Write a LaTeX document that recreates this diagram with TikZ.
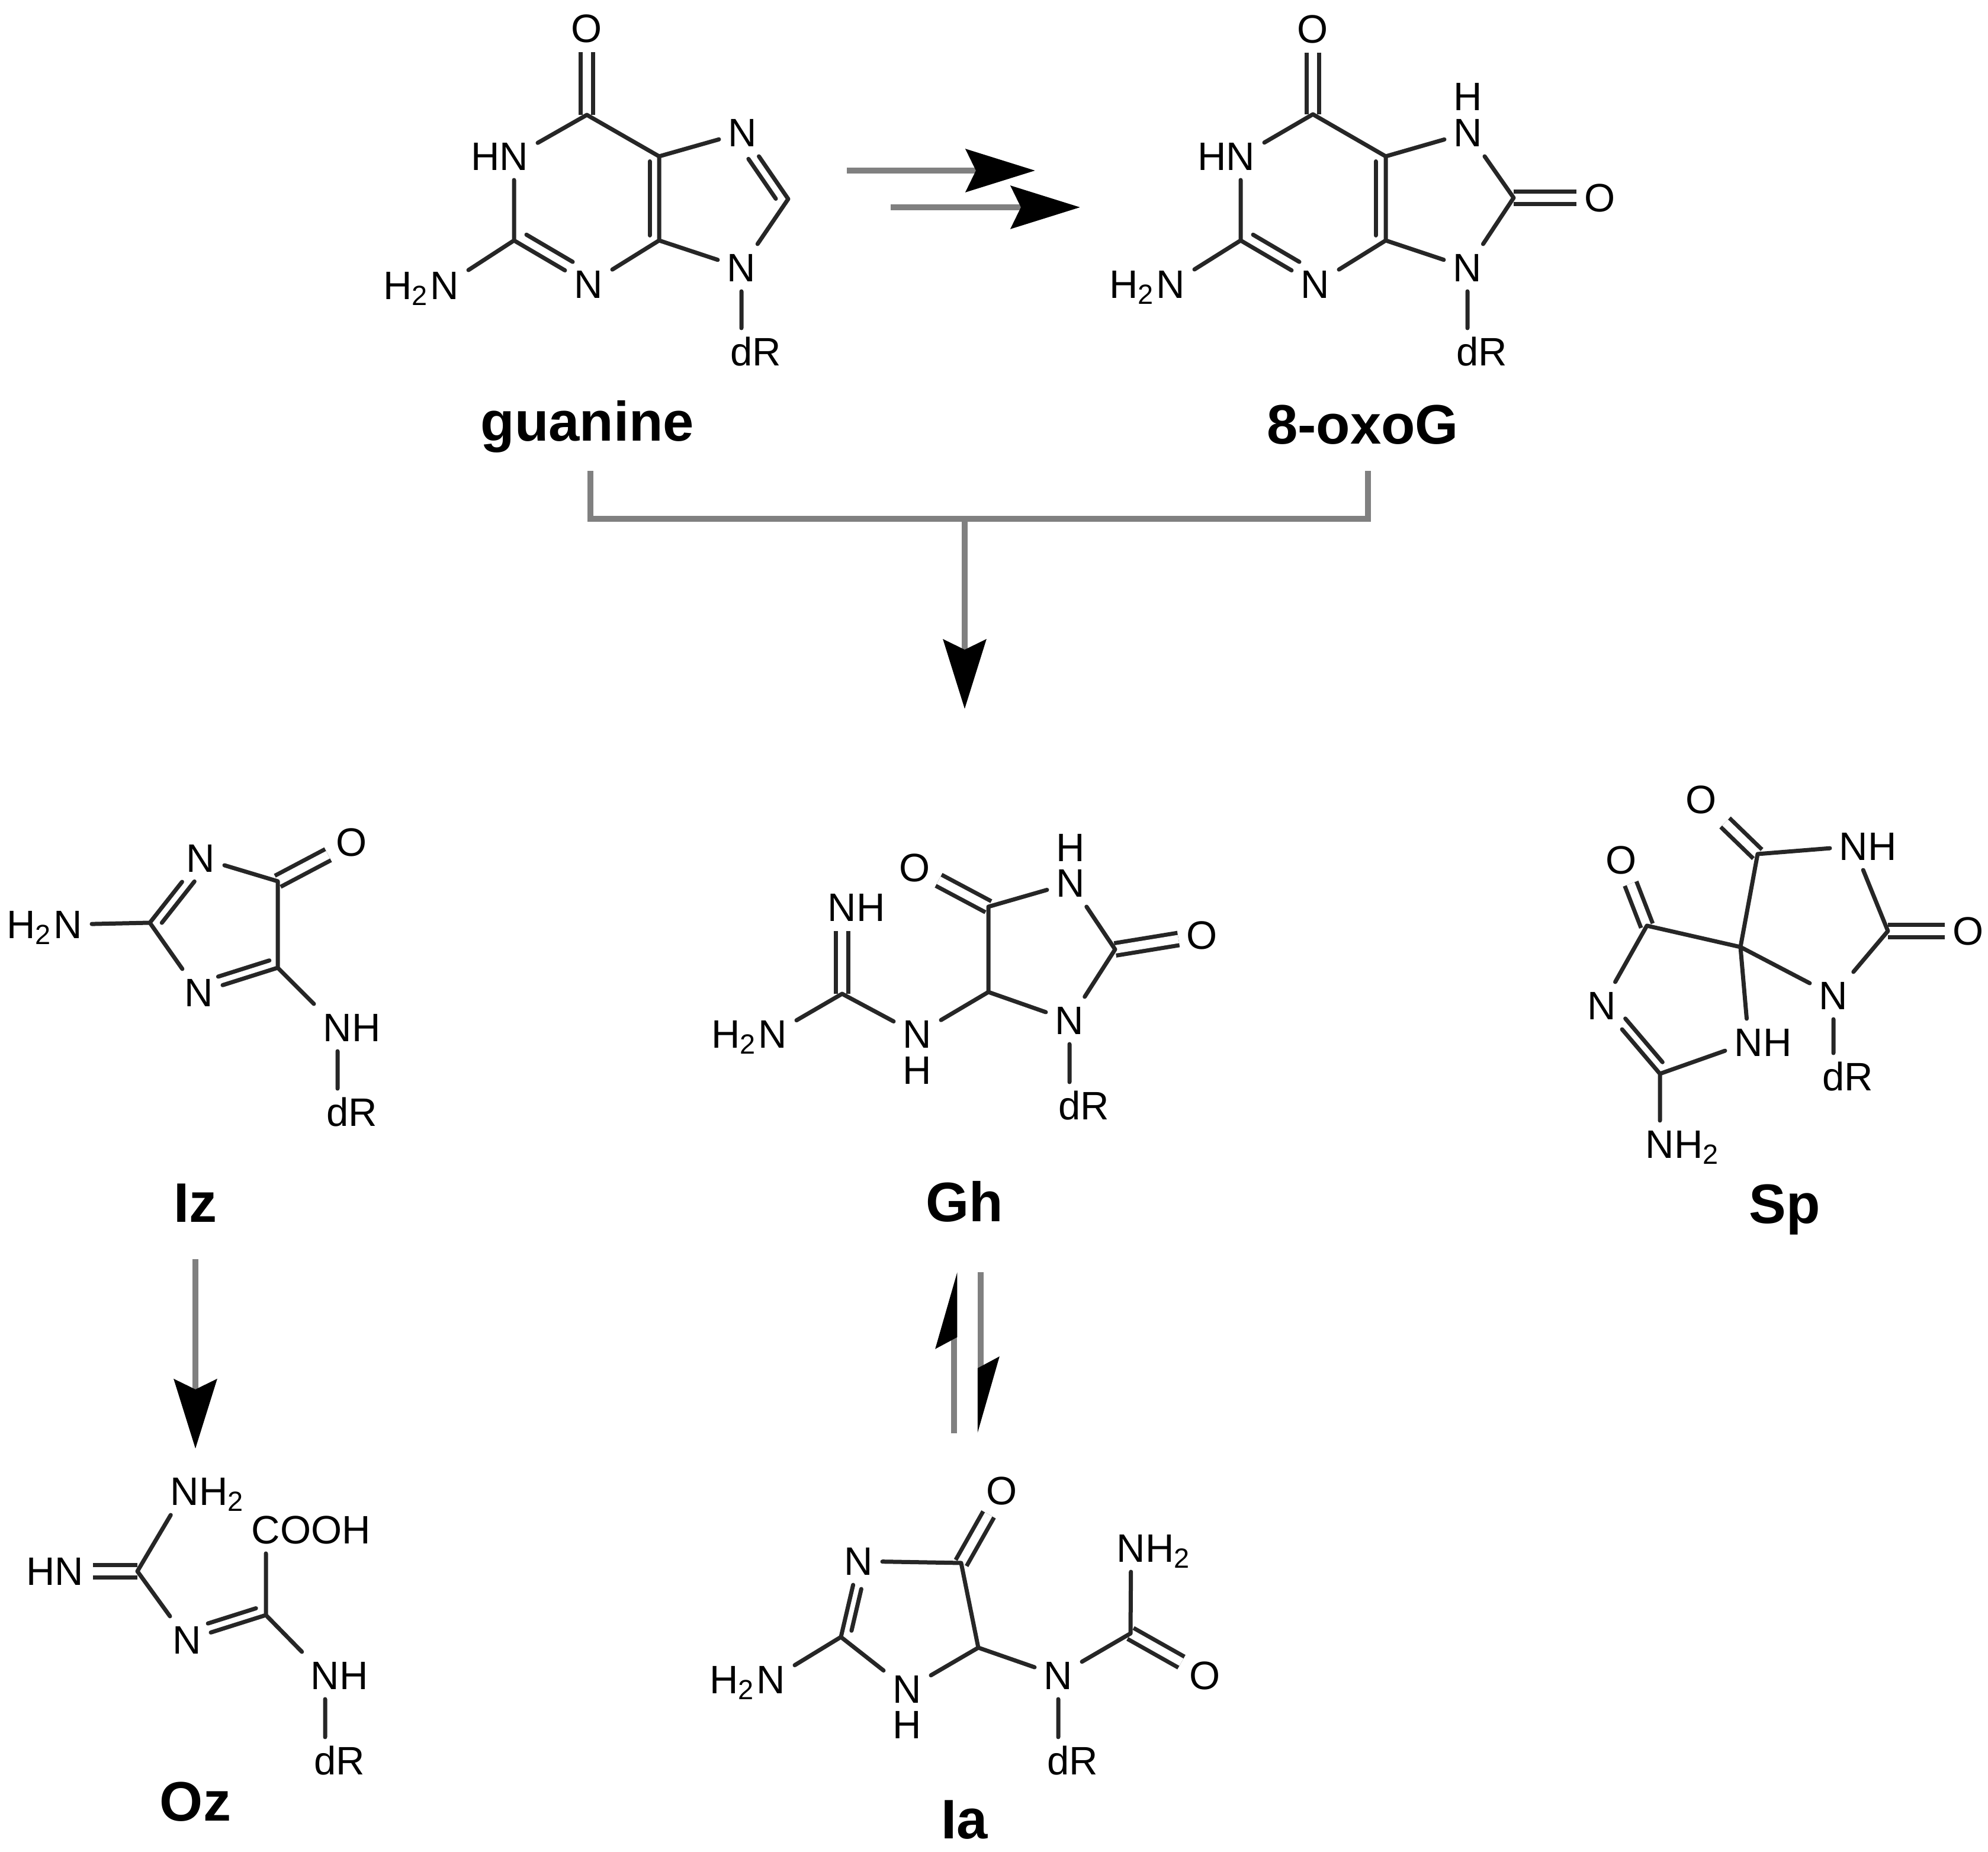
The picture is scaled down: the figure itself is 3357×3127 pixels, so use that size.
\documentclass[tikz,border=0pt]{standalone}
\usepackage{fontspec}
\setsansfont{Liberation Sans}
\usetikzlibrary{arrows.meta,calc}
\newcommand{\innerbond}[5]{\draw[bond] ($(#1)!#3!(#2)!#5!90:(#2)$) -- ($(#1)!#4!(#2)!#5!90:(#2)$);}

\begin{document}
\begin{tikzpicture}[x=.1pt,y=-.1pt,font=\sffamily,
  atom/.style={inner sep=0pt,minimum size=7.6pt,text height=4.8pt,text depth=0pt,
    font=\sffamily\fontsize{6.7}{8}\selectfont},
  caption/.style={inner sep=0pt,anchor=base,font=\sffamily\bfseries\fontsize{9.4}{11}\selectfont},
  bond/.style={draw=black!85,line width=.7pt,line cap=round},
  dbond/.style={bond,line cap=butt,double=white,double distance=1.4pt},
  link/.style={draw=black!50,line width=1.05pt},
  react/.style={link,-{Stealth[length=11.7pt,width=7.2pt,inset=1.7pt,black]}},
  half/.style={link,-{Stealth[harpoon,length=11pt,width=6.2pt,inset=1.6pt,black,line width=1.05pt]}}]

    \useasboundingbox (0,0) rectangle (3357,3127);

    % guanine
    \node[atom](guaO) at (991,48){O};
    \coordinate (guaC6) at (991,194);
    \node[atom](guaN1) at (868,264){\llap{H}N};
    \coordinate (guaC2) at (868,406);
    \node[atom](guaNb) at (751,482){\llap{H\textsubscript{2}}N};
    \node[atom](guaN3) at (994,480){N};
    \coordinate (guaC4) at (1113,406);
    \coordinate (guaC5) at (1113,264);
    \node[atom](guaN7) at (1254,224){N};
    \coordinate (guaC8) at (1331,336);
    \node[atom](guaN9) at (1252,452){N};
    \node[atom](guadR) at (1252,594){d\rlap{R}};
    \node[caption](guaName) at (992,745){guanine};
    \draw[dbond] (guaO) -- (guaC6);
    \draw[bond] (guaC6) -- (guaN1) (guaN1) -- (guaC2) (guaC2) -- (guaNb) (guaC2) -- (guaN3)
      (guaN3) -- (guaC4) (guaC4) -- (guaC5) (guaC5) -- (guaC6) (guaC5) -- (guaN7)
      (guaN7) -- (guaC8) (guaC8) -- (guaN9) (guaN9) -- (guaC4) (guaN9) -- (guadR);
    \innerbond{guaC2}{guaN3}{.09}{.71}{1.9pt}
    \innerbond{guaC4}{guaC5}{.06}{.94}{1.6pt}
    \innerbond{guaC8}{guaN7}{.09}{.69}{1.7pt}

    % 8-oxoG
    \node[atom](oxoO) at (2217,49){O};
    \coordinate (oxoC6) at (2217,193);
    \node[atom](oxoN1) at (2095,264){\llap{H}N};
    \coordinate (oxoC2) at (2095,406);
    \node[atom](oxoNb) at (1977,480){\llap{H\textsubscript{2}}N};
    \node[atom](oxoN3) at (2221,480){N};
    \coordinate (oxoC4) at (2340,406);
    \coordinate (oxoC5) at (2340,264);
    \node[atom](oxoN7) at (2479,224){N};
    \node[atom](oxoH) at (2479,163){H};
    \coordinate (oxoC8) at (2556,334);
    \node[atom](oxoOb) at (2702,334){O};
    \node[atom](oxoN9) at (2478,452){N};
    \node[atom](oxodR) at (2478,594){d\rlap{R}};
    \node[caption](oxoName) at (2301,750){8-oxoG};
    \draw[dbond] (oxoO) -- (oxoC6);
    \draw[dbond] (oxoC8) -- (oxoOb);
    \draw[bond] (oxoC6) -- (oxoN1) (oxoN1) -- (oxoC2) (oxoC2) -- (oxoNb) (oxoC2) -- (oxoN3)
      (oxoN3) -- (oxoC4) (oxoC4) -- (oxoC5) (oxoC5) -- (oxoC6) (oxoC5) -- (oxoN7)
      (oxoN7) -- (oxoC8) (oxoC8) -- (oxoN9) (oxoN9) -- (oxoC4) (oxoN9) -- (oxodR);
    \innerbond{oxoC2}{oxoN3}{.09}{.71}{1.9pt}
    \innerbond{oxoC4}{oxoC5}{.06}{.94}{1.7pt}

    % Iz
    \node[atom](izNa) at (339,1449){N};
    \node[atom](izNb) at (336,1676){N};
    \coordinate (izCa) at (253,1558);
    \coordinate (izCb) at (469,1488);
    \coordinate (izCc) at (469,1634);
    \node[atom](izO) at (594,1422){O};
    \node[atom](izNc) at (115,1561){\llap{H\textsubscript{2}}N};
    \node[atom](izNd) at (570,1735){N\rlap{H}};
    \node[atom](izdR) at (570,1878){d\rlap{R}};
    \node[caption](izName) at (330,2064){Iz};
    \draw[dbond] (izCb) -- (izO);
    \draw[bond] (izNc) -- (izCa) (izCa) -- (izNa) (izCa) -- (izNb) (izNa) -- (izCb)
      (izCb) -- (izCc) (izCc) -- (izNb) (izCc) -- (izNd) (izNd) -- (izdR);
    \innerbond{izNa}{izCa}{.27}{.91}{1.6pt}
    \innerbond{izNb}{izCc}{.28}{.93}{1.6pt}

    % Gh
    \node[atom](ghNa) at (1422,1532){N\rlap{H}};
    \coordinate (ghCa) at (1422,1678);
    \node[atom](ghNb) at (1305,1746){\llap{H\textsubscript{2}}N};
    \node[atom](ghNc) at (1549,1746){N};
    \node[atom](ghHa) at (1549,1807){H};
    \coordinate (ghCb) at (1669,1675);
    \coordinate (ghCc) at (1669,1531);
    \node[atom](ghOa) at (1545,1465){O};
    \node[atom](ghNd) at (1808,1491){N};
    \node[atom](ghHb) at (1808,1431){H};
    \coordinate (ghCd) at (1883,1603);
    \node[atom](ghOb) at (2030,1579){O};
    \node[atom](ghNe) at (1806,1723){N};
    \node[atom](ghdR) at (1806,1867){d\rlap{R}};
    \node[caption](ghName) at (1629,2063){Gh};
    \draw[dbond] (ghNa) -- (ghCa);
    \draw[dbond] (ghCc) -- (ghOa);
    \draw[dbond] (ghCd) -- (ghOb);
    \draw[bond] (ghCa) -- (ghNb) (ghCa) -- (ghNc) (ghNc) -- (ghCb) (ghCb) -- (ghCc)
      (ghCc) -- (ghNd) (ghNd) -- (ghCd) (ghCd) -- (ghNe) (ghNe) -- (ghCb) (ghNe) -- (ghdR);

    % Sp
    \node[atom](spOa) at (2873,1350){O};
    \coordinate (spCa) at (2968,1442);
    \node[atom](spNa) at (3130,1429){N\rlap{H}};
    \coordinate (spCb) at (3188,1572);
    \node[atom](spOb) at (3324,1572){O};
    \node[atom](spNb) at (3096,1681){N};
    \node[atom](spdR) at (3096,1818){d\rlap{R}};
    \coordinate (spiro) at (2939,1599);
    \coordinate (spCc) at (2781,1563);
    \node[atom](spOc) at (2738,1452){O};
    \node[atom](spNc) at (2705,1698){N};
    \coordinate (spCd) at (2803,1813);
    \node[atom](spNd) at (2953,1760){N\rlap{H}};
    \node[atom](spNe) at (2803,1932){N\rlap{H\textsubscript{2}}};
    \node[caption](spName) at (3014,2066){Sp};
    \draw[dbond] (spCa) -- (spOa);
    \draw[dbond] (spCb) -- (spOb);
    \draw[dbond] (spCc) -- (spOc);
    \draw[bond] (spCa) -- (spNa) (spNa) -- (spCb) (spCb) -- (spNb) (spNb) -- (spiro)
      (spiro) -- (spCa) (spiro) -- (spCc) (spCc) -- (spNc) (spNc) -- (spCd)
      (spCd) -- (spNd) (spNd) -- (spiro) (spCd) -- (spNe) (spNb) -- (spdR);
    \innerbond{spNc}{spCd}{.28}{.92}{1.6pt}

    % Oz
    \node[atom](ozNa) at (312,2518){N\rlap{H\textsubscript{2}}};
    \coordinate (ozCa) at (232,2653);
    \node[atom](ozNb) at (117,2653){\llap{H}N};
    \node[atom](ozNc) at (316,2769){N};
    \coordinate (ozCb) at (449,2727);
    \node[atom](ozCo) at (449,2583){C\rlap{OOH}};
    \node[atom](ozNd) at (549,2829){N\rlap{H}};
    \node[atom](ozdR) at (549,2973){d\rlap{R}};
    \node[caption](ozName) at (330,3075){Oz};
    \draw[dbond] (ozNb) -- (ozCa);
    \draw[bond] (ozCa) -- (ozNa) (ozCa) -- (ozNc) (ozNc) -- (ozCb) (ozCb) -- (ozCo)
      (ozCb) -- (ozNd) (ozNd) -- (ozdR);
    \innerbond{ozNc}{ozCb}{.3}{.91}{1.6pt}

    % Ia
    \node[atom](iaOa) at (1692,2517){O};
    \coordinate (iaCa) at (1623,2639);
    \node[atom](iaNa) at (1450,2636){N};
    \coordinate (iaCb) at (1420,2764);
    \node[atom](iaNb) at (1302,2836){\llap{H\textsubscript{2}}N};
    \node[atom](iaNc) at (1532,2852){N};
    \node[atom](iaH) at (1532,2912){H};
    \coordinate (iaCc) at (1652,2782);
    \node[atom](iaNd) at (1787,2829){N};
    \node[atom](iadR) at (1787,2973){d\rlap{R}};
    \coordinate (iaCd) at (1909,2758);
    \node[atom](iaNe) at (1910,2614){N\rlap{H\textsubscript{2}}};
    \node[atom](iaOb) at (2035,2829){O};
    \node[caption](iaName) at (1629,3105){Ia};
    \draw[dbond] (iaCa) -- (iaOa);
    \draw[dbond] (iaCd) -- (iaOb);
    \draw[bond] (iaNa) -- (iaCa) (iaCa) -- (iaCc) (iaCc) -- (iaNc) (iaNc) -- (iaCb)
      (iaCb) -- (iaNa) (iaCb) -- (iaNb) (iaCc) -- (iaNd) (iaNd) -- (iaCd)
      (iaCd) -- (iaNe) (iaNd) -- (iadR);
    \innerbond{iaNa}{iaCb}{.34}{.89}{1.5pt}

    % arrows
    \coordinate (topa) at (1430,288);
    \coordinate (topb) at (1748,288);
    \coordinate (topc) at (1504,350);
    \coordinate (topd) at (1824,350);
    \coordinate (gfoot) at (997,795);
    \coordinate (ofoot) at (2310,795);
    \coordinate (join) at (1629,876);
    \coordinate (ghin) at (1629,1197);
    \coordinate (izout) at (330,2126);
    \coordinate (ozin) at (330,2446);
    \coordinate (ghup) at (1611,2148);
    \coordinate (iaup) at (1611,2420);
    \coordinate (ghdown) at (1656,2148);
    \coordinate (iadown) at (1656,2420);

    \draw[react] (topa) -- (topb);
    \draw[react] (topc) -- (topd);
    \draw[link] (gfoot) |- (join) -| (ofoot);
    \draw[react] (join) -- (ghin);
    \draw[react] (izout) -- (ozin);
    \draw[half] (iaup) -- (ghup);
    \draw[half] (ghdown) -- (iadown);
\end{tikzpicture}
\end{document}
